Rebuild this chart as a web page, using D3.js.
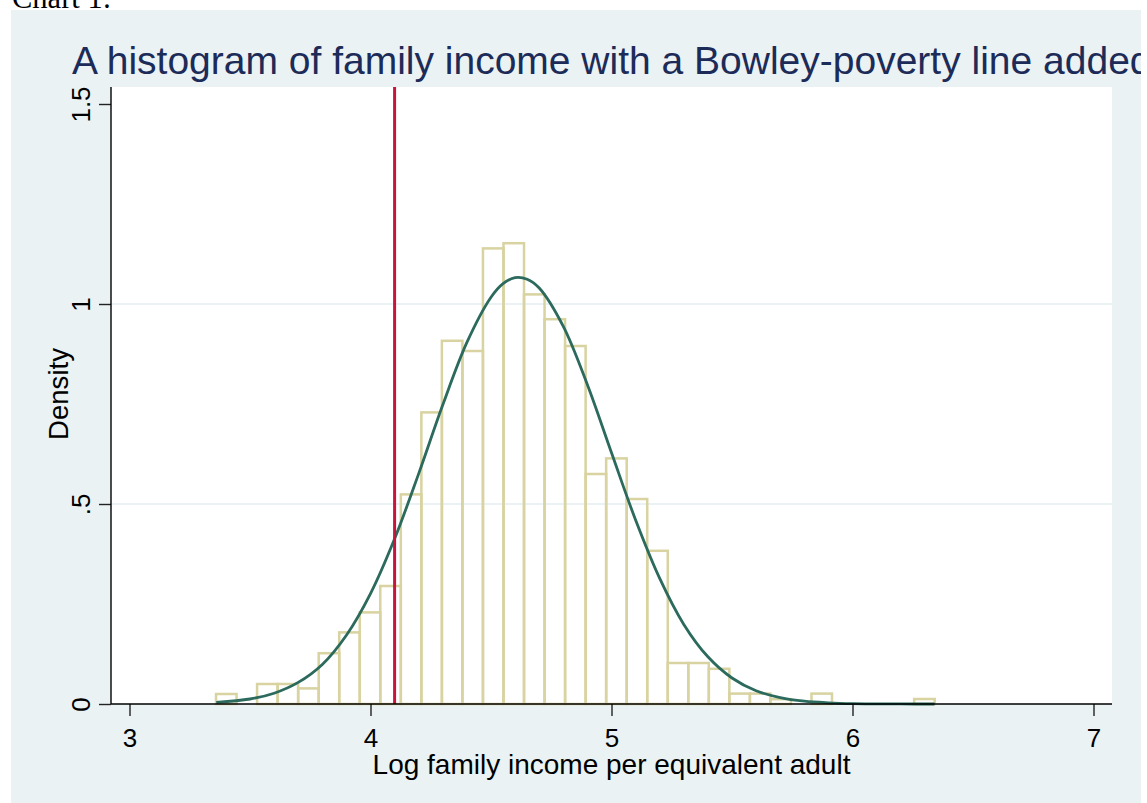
<!DOCTYPE html>
<html>
<head>
<meta charset="utf-8">
<script src="https://cdn.jsdelivr.net/npm/d3@7"></script>
<style>
  html, body { margin: 0; padding: 0; background: #fff; }
  svg { display: block; }
  text { font-family: "Liberation Sans", Arial, sans-serif; }
</style>
</head>
<body>
<svg id="chart" width="1147" height="803"></svg>
<script>
// ---- data ----
const binStart = 3.359;
const binWidth = 0.0852;
const density = [
  0.025, 0, 0.05, 0.05, 0.039, 0.127, 0.179, 0.229, 0.295, 0.524,
  0.729, 0.908, 0.8825, 1.139, 1.152, 1.024, 0.962, 0.895, 0.575, 0.614,
  0.5125, 0.383, 0.1025, 0.1025, 0.088, 0.026, 0.026, 0.012, 0, 0.026,
  0, 0, 0, 0, 0.0125
];
const normX = [3.36, 3.5, 3.6, 3.7, 3.8, 3.9, 4.0, 4.1, 4.2, 4.3, 4.4, 4.5, 4.55, 4.6, 4.65,
  4.7, 4.8, 4.9, 5.0, 5.1, 5.2, 5.3, 5.4, 5.5, 5.6, 5.7, 5.8, 5.9, 6.0, 6.1, 6.2, 6.34];
const normY = [0.004, 0.0125, 0.027, 0.054, 0.099, 0.172, 0.276, 0.413, 0.576, 0.748, 0.904, 1.017, 1.051, 1.066, 1.062,
  1.040, 0.944, 0.798, 0.628, 0.460, 0.314, 0.199, 0.118, 0.065, 0.033, 0.016, 0.007, 0.003, 0.001, 0.0004, 0.0001, 0];
const povertyLine = 4.1;
const xTicks = [3, 4, 5, 6, 7];
const xTickLabels = ["3", "4", "5", "6", "7"];
const yTicks = [0, 0.5, 1, 1.5];
const yTickLabels = ["0", ".5", "1", "1.5"];
const gridValues = [0.5, 1];
const caption = "Chart 1:";
const title = "A histogram of family income with a Bowley-poverty line added";
const xTitle = "Log family income per equivalent adult";
const yTitle = "Density";

// ---- layout ----
const W = 1147, H = 803;
const panel = {x: 11, y: 10, w: 1130, h: 793};
const plot = {left: 111, right: 1112, top: 87, bottom: 704};

const svg = d3.select("#chart");

svg.append("rect").attr("width", W).attr("height", H).attr("fill", "#fff");

svg.append("text")
  .attr("x", 12).attr("y", 7.5)
  .style("font-family", "'Liberation Serif', 'Times New Roman', serif")
  .style("font-size", "30.5px")
  .attr("fill", "#000")
  .text(caption);

svg.append("rect")
  .attr("x", panel.x).attr("y", panel.y).attr("width", panel.w).attr("height", panel.h)
  .attr("fill", "#eaf2f3");

const defs = svg.append("defs");
defs.append("clipPath").attr("id", "panelClip")
  .append("rect").attr("x", panel.x).attr("y", panel.y).attr("width", panel.w).attr("height", panel.h);

svg.append("text")
  .attr("clip-path", "url(#panelClip)")
  .attr("x", 72).attr("y", 74)
  .style("font-size", "39px")
  .attr("fill", "#1c2b58")
  .text(title);

svg.append("rect")
  .attr("x", plot.left).attr("y", plot.top)
  .attr("width", plot.right - plot.left).attr("height", plot.bottom - plot.top)
  .attr("fill", "#fff");

const x = d3.scaleLinear().domain([3, 7]).range([129.5, 1093.5]);
const y = d3.scaleLinear().domain([0, 1.5]).range([704, 104]);

// gridlines
svg.append("g").selectAll("line").data(gridValues).join("line")
  .attr("x1", plot.left).attr("x2", plot.right)
  .attr("y1", d => y(d)).attr("y2", d => y(d))
  .attr("stroke", "#eaf2f3").attr("stroke-width", 2);

// histogram bars
const bins = density.map((d, i) => ({lo: binStart + i * binWidth, hi: binStart + (i + 1) * binWidth, d}))
  .filter(b => b.d > 0);
svg.append("g").selectAll("rect").data(bins).join("rect")
  .attr("x", b => x(b.lo)).attr("width", b => x(b.hi) - x(b.lo))
  .attr("y", b => y(b.d)).attr("height", b => y(0) - y(b.d))
  .attr("fill", "none")
  .attr("stroke", "#d8d3a0").attr("stroke-width", 2.5);

// normal density curve
const pts = normX.map((v, i) => [v, normY[i]]);
svg.append("path")
  .datum(pts)
  .attr("d", d3.line().x(d => x(d[0])).y(d => y(d[1])).curve(d3.curveCatmullRom.alpha(0.5)))
  .attr("fill", "none")
  .attr("stroke", "#2b6a5c").attr("stroke-width", 2.8);

// poverty line
svg.append("line")
  .attr("x1", x(povertyLine)).attr("x2", x(povertyLine))
  .attr("y1", plot.top).attr("y2", plot.bottom)
  .attr("stroke", "#c8143c").attr("stroke-width", 3);

// axes
const xAxis = d3.axisBottom(x).tickValues(xTicks).tickSize(12).tickSizeOuter(0)
  .tickFormat((d, i) => xTickLabels[i]);
const gx = svg.append("g").attr("transform", `translate(0,${plot.bottom})`).call(xAxis);
gx.select(".domain").remove();
gx.selectAll(".tick line").attr("stroke", "#222").attr("stroke-width", 1.4);
gx.selectAll(".tick text")
  .attr("y", 42.7).attr("dy", null)
  .style("font-size", "26px").attr("fill", "#000");

const yAxis = d3.axisLeft(y).tickValues(yTicks).tickSize(12).tickSizeOuter(0)
  .tickFormat((d, i) => yTickLabels[i]);
const gy = svg.append("g").attr("transform", `translate(${plot.left},0)`).call(yAxis);
gy.select(".domain").remove();
gy.selectAll(".tick line").attr("stroke", "#222").attr("stroke-width", 1.4);
gy.selectAll(".tick text")
  .attr("transform", "rotate(-90)")
  .attr("x", 0).attr("y", -21.5).attr("dy", null)
  .attr("text-anchor", "middle")
  .style("font-size", "26px").attr("fill", "#000");

// axis lines
svg.append("line")
  .attr("x1", plot.left).attr("x2", plot.left)
  .attr("y1", plot.top).attr("y2", plot.bottom)
  .attr("stroke", "#000").attr("stroke-width", 1.4);
svg.append("line")
  .attr("x1", plot.left).attr("x2", plot.right)
  .attr("y1", plot.bottom).attr("y2", plot.bottom)
  .attr("stroke", "#000").attr("stroke-width", 1.4);

// axis titles
svg.append("text")
  .attr("x", (plot.left + plot.right) / 2).attr("y", 774.3)
  .attr("text-anchor", "middle")
  .style("font-size", "28px").attr("fill", "#000")
  .text(xTitle);
svg.append("text")
  .attr("transform", `translate(68.3,394) rotate(-90)`)
  .attr("text-anchor", "middle")
  .style("font-size", "27.6px").attr("fill", "#000")
  .text(yTitle);
</script>
</body>
</html>
